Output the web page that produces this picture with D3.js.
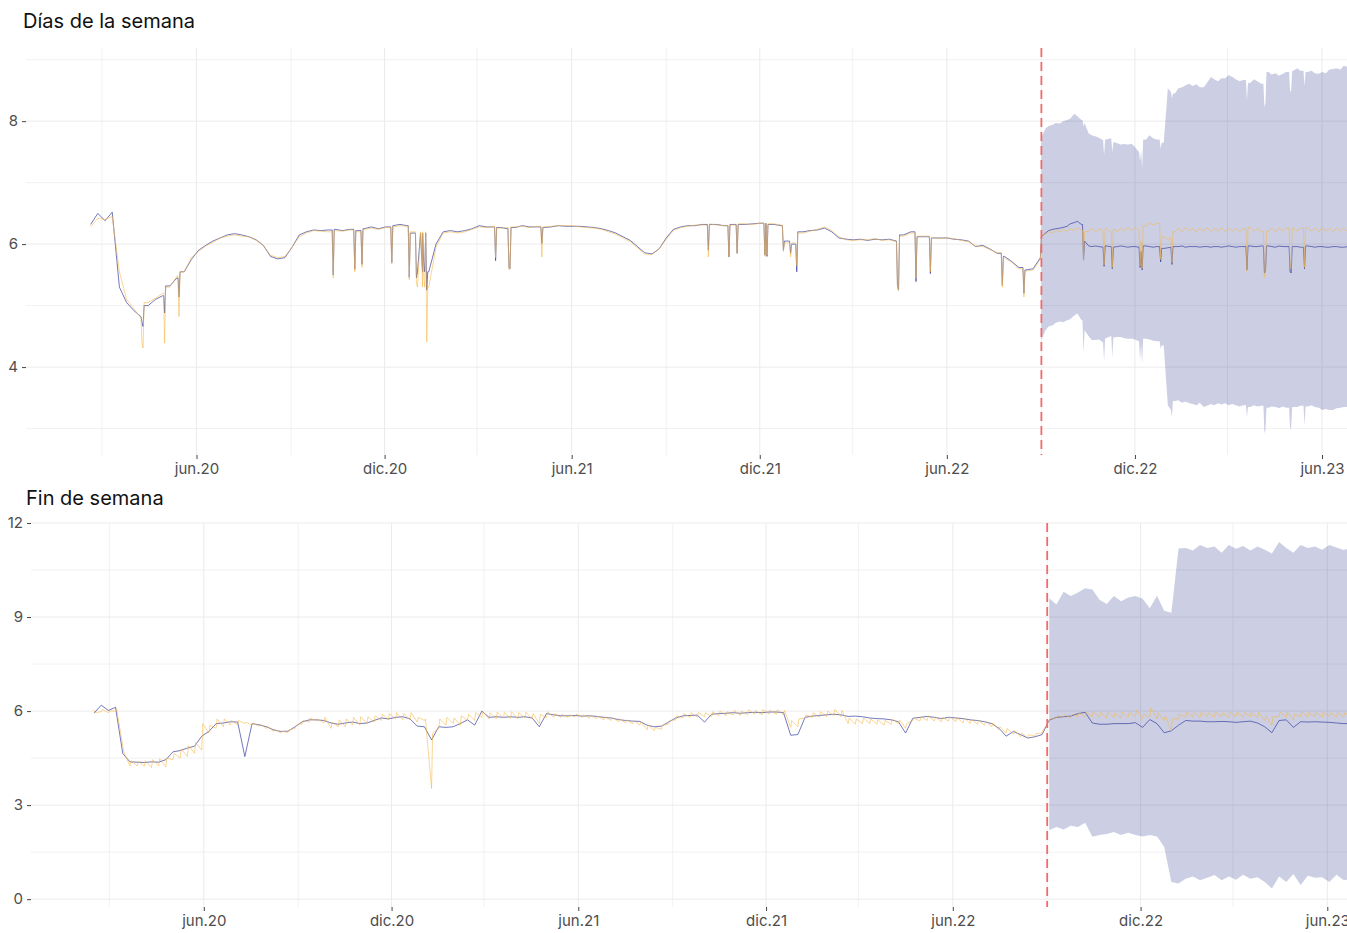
<!DOCTYPE html>
<html lang="es">
<head>
<meta charset="utf-8">
<script src="https://cdn.jsdelivr.net/npm/d3@7"></script>
<style>
  body { margin: 0; background: #ffffff; }
  svg  { display: block; font-family: Inter, "Liberation Sans", sans-serif; }
</style>
</head>
<body>
<svg id="grafico" width="1347" height="933"></svg>
<script>
// ---- datos: días de la semana (miércoles de cada semana) ----
let semanaInicio = "2020-02-19";
let semanaObs = [
  6.32,6.50,6.38,6.52,5.30,5.05,4.92,4.82,5.00,5.10,
  5.16,5.32,5.45,5.55,5.75,5.90,5.98,6.05,6.10,6.15,
  6.17,6.15,6.12,6.07,5.98,5.80,5.76,5.78,5.95,6.15,
  6.20,6.23,6.22,6.23,6.24,6.22,6.24,6.22,6.25,6.28,
  6.25,6.28,6.30,6.32,6.30,6.18,5.80,5.55,6.00,6.20,
  6.22,6.20,6.22,6.25,6.30,6.28,6.28,6.27,6.25,6.27,
  6.30,6.28,6.28,6.27,6.28,6.30,6.29,6.29,6.29,6.28,
  6.27,6.25,6.22,6.18,6.12,6.06,5.96,5.86,5.84,5.92,
  6.10,6.24,6.28,6.30,6.30,6.32,6.32,6.32,6.30,6.32,
  6.32,6.32,6.33,6.34,6.32,6.32,6.30,6.05,6.00,6.20,
  6.22,6.23,6.26,6.20,6.10,6.08,6.07,6.08,6.06,6.08,
  6.07,6.08,6.05,6.15,6.20,6.12,6.12,6.10,6.10,6.10,
  6.08,6.07,6.05,5.96,5.98,5.92,5.85,5.80,5.72,5.62,
  5.58,5.60,5.78
];
let semanaObsModelo = [
  6.28,6.42,6.40,6.45,5.55,5.10,4.95,4.80,5.05,5.12,
  5.20,5.30,5.48,5.55,5.78,5.88,5.97,6.03,6.10,6.13,
  6.15,6.13,6.12,6.06,5.98,5.82,5.78,5.80,5.95,6.12,
  6.18,6.22,6.21,6.20,6.22,6.21,6.23,6.20,6.24,6.26,
  6.24,6.27,6.28,6.30,6.29,6.20,5.85,5.30,5.95,6.18,
  6.20,6.18,6.20,6.24,6.28,6.27,6.29,6.26,6.27,6.28,
  6.29,6.27,6.29,6.28,6.29,6.30,6.30,6.30,6.28,6.27,
  6.26,6.24,6.20,6.16,6.10,6.04,5.94,5.84,5.83,5.92,
  6.08,6.22,6.27,6.29,6.31,6.31,6.33,6.31,6.30,6.31,
  6.33,6.33,6.32,6.34,6.33,6.33,6.31,6.02,6.02,6.18,
  6.21,6.24,6.28,6.22,6.12,6.07,6.06,6.07,6.07,6.09,
  6.06,6.07,6.04,6.13,6.18,6.13,6.13,6.11,6.09,6.10,
  6.09,6.06,6.04,5.97,5.96,5.91,5.86,5.78,5.70,5.60,
  5.56,5.58,5.75
];
// festivos: [fecha, observado, modelo]
let semanaFestivos = [
  ["2020-04-09",4.72,4.40],["2020-04-10",4.66,4.31],["2020-05-01",4.88,4.39],
  ["2020-05-15",5.14,4.82],["2020-10-12",5.50,5.45],["2020-11-02",5.59,5.55],
  ["2020-11-09",5.67,5.62],["2020-12-08",5.70,5.68],["2020-12-25",5.46,5.42],
  ["2021-01-01",5.45,5.36],["2021-01-06",5.79,5.85],["2021-01-08",5.70,5.50],
  ["2021-01-11",5.25,4.41],["2021-03-19",5.73,5.78],["2021-04-01",5.62,5.58],
  ["2021-04-02",5.60,5.60],["2021-05-03",6.01,5.79],["2021-10-12",5.90,5.79],
  ["2021-11-01",5.79,5.79],["2021-11-09",5.85,5.85],["2021-12-06",5.82,5.80],
  ["2021-12-08",5.80,5.82],["2021-12-24",5.90,5.88],["2021-12-31",5.85,5.79],
  ["2022-01-06",5.55,5.65],["2022-04-14",5.32,5.30],["2022-04-15",5.25,5.25],
  ["2022-05-02",5.39,5.45],["2022-05-16",5.52,5.55],["2022-07-25",5.33,5.30],
  ["2022-08-15",5.20,5.14]
];
// pronóstico: pares [jueves, lunes] desde el 1 de septiembre de 2022
let semanaPronInicio = "2022-09-01";
let semanaPron = [
  [6.12,6.18],[6.22,6.24],[6.25,6.26],[6.27,6.29],[6.33,6.35],
  [6.37,6.32],[6.05,5.97],[5.96,5.97],[5.96,5.95],[5.97,5.96],
  [5.95,5.96],[5.97,5.96],[5.95,5.96],[5.96,5.95],[5.96,5.97],
  [5.96,5.95],[5.96,5.95],[5.93,5.94],[5.95,5.96],[5.96,5.97],
  [5.95,5.96],[5.96,5.96],[5.95,5.96],[5.96,5.95],[5.96,5.96],
  [5.95,5.96],[5.97,5.96],[5.95,5.96],[5.96,5.95],[5.97,5.96],
  [5.96,5.97],[5.96,5.97],[5.96,5.95],[5.97,5.96],[5.96,5.95],
  [5.96,5.96],[5.95,5.96],[5.97,5.96],[5.95,5.96],[5.96,5.95],
  [5.95,5.96],[5.96,5.95],[5.95,5.96]
];
let semanaPronModelo = [
  [6.14,6.16],[6.20,6.18],[6.23,6.20],[6.24,6.21],[6.25,6.22],
  [6.26,6.23],[6.20,6.21],[6.26,6.20],[6.25,6.21],[6.26,6.20],
  [6.25,6.20],[6.26,6.21],[6.27,6.22],[6.28,6.22],[6.30,6.30],
  [6.34,6.31],[6.34,6.10],[6.12,6.08],[6.10,6.20],[6.26,6.20],
  [6.27,6.21],[6.26,6.20],[6.26,6.21],[6.27,6.20],[6.26,6.21],
  [6.27,6.20],[6.26,6.21],[6.26,6.20],[6.25,6.20],[6.27,6.21],
  [6.26,6.20],[6.27,6.21],[6.26,6.20],[6.27,6.21],[6.26,6.20],
  [6.26,6.21],[6.26,6.20],[6.27,6.21],[6.26,6.20],[6.27,6.21],
  [6.26,6.20],[6.27,6.21],[6.26,6.20]
];
let semanaAlta = [
  [7.74,7.88],[7.92,7.94],[7.97,7.96],[8.00,8.02],[8.04,8.12],
  [8.08,8.02],[7.97,7.80],[7.77,7.75],[7.73,7.69],[7.70,7.72],
  [7.66,7.64],[7.62,7.63],[7.62,7.63],[7.58,7.50],[7.56,7.70],
  [7.77,7.72],[7.70,7.60],[7.65,8.53],[8.48,8.45],[8.53,8.55],
  [8.58,8.61],[8.57,8.60],[8.55,8.55],[8.62,8.72],[8.68,8.65],
  [8.70,8.70],[8.75,8.72],[8.68,8.65],[8.67,8.34],[8.62,8.68],
  [8.65,8.61],[8.30,8.80],[8.76,8.78],[8.74,8.77],[8.80,8.50],
  [8.82,8.86],[8.82,8.60],[8.80,8.82],[8.78,8.77],[8.80,8.78],
  [8.84,8.85],[8.86,8.84],[8.90,8.88]
];
let semanaBaja = [
  [4.44,4.60],[4.66,4.68],[4.72,4.74],[4.73,4.76],[4.78,4.84],
  [4.87,4.76],[4.60,4.50],[4.44,4.44],[4.45,4.40],[4.47,4.50],
  [4.48,4.49],[4.49,4.47],[4.46,4.46],[4.45,4.42],[4.45,4.46],
  [4.45,4.43],[4.42,4.38],[4.35,3.38],[3.30,3.45],[3.46,3.42],
  [3.44,3.41],[3.40,3.38],[3.42,3.35],[3.37,3.40],[3.38,3.41],
  [3.39,3.41],[3.38,3.40],[3.38,3.36],[3.38,3.20],[3.35,3.38],
  [3.36,3.37],[3.00,3.34],[3.36,3.35],[3.33,3.36],[3.34,3.00],
  [3.35,3.35],[3.37,3.10],[3.36,3.38],[3.35,3.34],[3.30,3.32],
  [3.30,3.30],[3.33,3.34],[3.35,3.35]
];
// festivos del pronóstico: [fecha, pronóstico, modelo, alta, baja]
let semanaFestivosPron = [
  ["2022-10-12",5.74,5.74,7.91,4.22],["2022-11-01",5.64,5.66,7.45,4.09],
  ["2022-11-09",5.60,5.62,7.50,4.15],["2022-12-06",5.62,5.64,7.35,4.12],
  ["2022-12-07",5.88,6.05,7.52,4.38],["2022-12-08",5.58,5.60,7.23,4.06],
  ["2022-12-26",5.71,5.75,7.55,4.30],["2023-01-06",5.67,5.70,8.37,3.19],
  ["2023-03-20",5.58,5.56,8.34,3.19],["2023-04-06",5.53,5.46,8.23,2.92],
  ["2023-04-07",5.56,5.50,8.30,2.98],["2023-05-01",5.55,5.62,8.48,2.98],
  ["2023-05-02",5.53,5.60,8.50,3.02],["2023-05-15",5.60,5.62,8.57,3.05]
];

// ---- datos: fin de semana (sábado de cada semana) ----
let findeInicio = "2020-02-15";
let findeObs = [
  5.93,6.19,6.02,6.12,4.65,4.38,4.37,4.36,4.38,4.37,
  4.45,4.70,4.74,4.82,4.88,5.20,5.35,5.60,5.62,5.66,
  5.65,4.55,5.60,5.56,5.50,5.40,5.35,5.36,5.50,5.66,
  5.72,5.72,5.70,5.62,5.58,5.62,5.65,5.60,5.62,5.70,
  5.78,5.75,5.80,5.82,5.75,5.52,5.50,5.08,5.50,5.48,
  5.50,5.60,5.72,5.55,6.00,5.80,5.82,5.80,5.82,5.80,
  5.82,5.78,5.50,5.92,5.88,5.85,5.85,5.86,5.84,5.85,
  5.83,5.80,5.78,5.73,5.70,5.68,5.67,5.55,5.50,5.52,
  5.65,5.78,5.85,5.86,5.87,5.65,5.90,5.92,5.93,5.95,
  5.93,5.95,5.96,5.95,5.97,5.97,5.95,5.23,5.25,5.80,
  5.84,5.86,5.88,5.90,5.88,5.83,5.84,5.82,5.78,5.76,
  5.75,5.72,5.66,5.30,5.77,5.80,5.83,5.80,5.76,5.80,
  5.78,5.76,5.72,5.70,5.66,5.60,5.45,5.20,5.35,5.25,
  5.14,5.18,5.25
];
// modelo: pares [sábado, domingo]
let findeObsModelo = [
  [6.03,5.95],[5.98,6.05],[5.95,6.00],[6.00,6.08],[4.90,4.70],
  [4.25,4.42],[4.25,4.40],[4.24,4.42],[4.20,4.45],[4.25,4.48],
  [4.22,4.50],[4.45,4.65],[4.50,4.80],[4.55,4.90],[4.65,5.00],
  [4.75,5.60],[5.30,5.55],[5.45,5.75],[5.50,5.75],[5.55,5.70],
  [5.55,5.70],[5.60,5.65],[5.55,5.62],[5.52,5.58],[5.45,5.52],
  [5.35,5.42],[5.30,5.36],[5.32,5.40],[5.45,5.55],[5.60,5.70],
  [5.65,5.78],[5.68,5.75],[5.62,5.80],[5.45,5.65],[5.50,5.72],
  [5.50,5.75],[5.55,5.80],[5.55,5.82],[5.60,5.82],[5.65,5.85],
  [5.70,5.90],[5.72,5.92],[5.75,5.95],[5.72,5.92],[5.72,5.95],
  [5.65,5.80],[5.70,5.75],[3.53,5.30],[5.45,5.75],[5.55,5.80],
  [5.60,5.78],[5.55,5.85],[5.70,5.90],[5.70,5.95],[5.80,5.98],
  [5.75,5.95],[5.75,5.97],[5.78,5.95],[5.76,5.98],[5.75,5.95],
  [5.78,5.96],[5.75,5.92],[5.60,5.90],[5.78,5.98],[5.80,5.92],
  [5.80,5.90],[5.80,5.88],[5.82,5.90],[5.80,5.88],[5.78,5.86],
  [5.76,5.84],[5.72,5.82],[5.70,5.80],[5.66,5.76],[5.62,5.72],
  [5.60,5.70],[5.55,5.66],[5.40,5.55],[5.38,5.48],[5.42,5.55],
  [5.58,5.70],[5.72,5.85],[5.78,5.92],[5.80,5.95],[5.80,5.96],
  [5.82,5.95],[5.82,5.98],[5.85,6.00],[5.85,5.98],[5.88,6.02],
  [5.86,6.00],[5.88,6.04],[5.90,6.02],[5.88,6.05],[5.90,6.03],
  [5.90,6.05],[5.88,6.02],[5.48,5.70],[5.50,5.75],[5.78,5.88],
  [5.80,5.95],[5.80,5.98],[5.82,6.00],[5.85,6.05],[5.82,6.02],
  [5.60,5.78],[5.58,5.75],[5.60,5.78],[5.60,5.75],[5.58,5.72],
  [5.55,5.70],[5.58,5.75],[5.60,5.72],[5.45,5.60],[5.70,5.78],
  [5.68,5.82],[5.70,5.85],[5.68,5.82],[5.66,5.80],[5.68,5.82],
  [5.66,5.80],[5.62,5.78],[5.60,5.74],[5.58,5.70],[5.55,5.68],
  [5.50,5.62],[5.40,5.50],[5.30,5.45],[5.25,5.38],[5.18,5.30],
  [5.15,5.25],[5.20,5.28],[5.30,5.40]
];
let findePronInicio = "2022-09-03";
let findePron = [
  5.71,5.80,5.82,5.84,5.92,5.96,5.62,5.58,5.58,5.60,
  5.60,5.60,5.63,5.48,5.73,5.60,5.31,5.37,5.55,5.70,
  5.68,5.68,5.66,5.66,5.67,5.66,5.64,5.66,5.68,5.62,
  5.50,5.31,5.70,5.72,5.48,5.66,5.65,5.66,5.65,5.64,
  5.62,5.60,5.60
];
let findePronModelo = [
  [5.68,5.75],[5.78,5.85],[5.80,5.88],[5.78,5.90],[5.82,5.95],
  [5.80,5.96],[5.82,5.98],[5.80,5.95],[5.78,5.96],[5.80,5.95],
  [5.78,5.97],[5.80,5.96],[5.82,6.04],[5.75,5.90],[5.82,6.10],
  [5.75,5.95],[5.70,5.85],[5.37,5.75],[5.75,5.90],[5.80,5.96],
  [5.82,5.95],[5.80,5.96],[5.82,5.95],[5.80,5.97],[5.82,5.95],
  [5.80,5.96],[5.82,5.97],[5.80,5.95],[5.82,5.96],[5.78,5.95],
  [5.70,5.85],[5.55,5.82],[5.82,5.97],[5.80,5.96],[5.72,5.90],
  [5.82,5.97],[5.80,5.95],[5.82,5.96],[5.80,5.97],[5.82,5.95],
  [5.80,5.96],[5.82,5.95],[5.80,5.96]
];
let findeAlta = [
  9.60,9.40,9.81,9.67,9.78,9.92,9.88,9.55,9.42,9.67,
  9.50,9.62,9.67,9.58,9.28,9.68,9.20,9.14,11.19,11.20,
  11.12,11.30,11.20,11.25,11.05,11.30,11.18,11.27,11.12,11.25,
  11.15,11.03,11.39,11.20,11.05,11.30,11.20,11.25,11.15,11.30,
  11.22,11.14,11.20
];
let findeBaja = [
  2.20,2.30,2.22,2.34,2.30,2.44,1.99,2.05,2.08,2.14,
  2.05,2.12,2.05,2.00,2.05,2.00,1.67,0.55,0.50,0.65,
  0.72,0.60,0.68,0.77,0.60,0.72,0.62,0.78,0.65,0.70,
  0.55,0.34,0.72,0.55,0.80,0.45,0.75,0.68,0.70,0.55,
  0.78,0.60,0.65
];

// ---- ejes ----
let fechaCorte   = "2022-09-01";
let ticksFechas  = ["2020-06-01","2020-12-01","2021-06-01","2021-12-01","2022-06-01","2022-12-01","2023-06-01"];
let ticksEtiq    = ["jun.20","dic.20","jun.21","dic.21","jun.22","dic.22","jun.23"];
let menoresFechas = ["2020-03-01","2020-09-01","2021-03-01","2021-09-01","2022-03-01","2022-09-01","2023-03-01","2023-09-01"];
let semanaTicksY  = [4, 6, 8];
let semanaMenoresY = [3, 5, 7, 9];
let findeTicksY   = [0, 3, 6, 9, 12];
let findeMenoresY = [1.5, 4.5, 7.5, 10.5];

let ancho = 1347;
let parse = d3.utcParse("%Y-%m-%d");
let svg   = d3.select("#grafico");

function puntosRegulares(inicio, valores, desfases){
    let t0 = parse(inicio);
    let pts = [];
    valores.forEach((v, i) => {
        let vs = Array.isArray(v) ? v : [v];
        vs.forEach((val, k) => pts.push({ t: d3.utcDay.offset(t0, 7 * i + desfases[k]), v: val }));
    });
    return pts;
}

// inserta los festivos: el día anterior y posterior repiten el valor del vecino más cercano
function armarSerie(regulares, festivos){
    let dias = new Set(festivos.map(f => +f.t));
    let pts  = regulares.filter(p => !dias.has(+p.t));
    let fechasReg = new Set(pts.map(p => +p.t));
    let extra = [];
    festivos.forEach(f => {
        [-1, 1].forEach(s => {
            let t = d3.utcDay.offset(f.t, s);
            if (dias.has(+t) || fechasReg.has(+t)) return;
            let lado = s < 0 ? pts.filter(p => p.t < f.t) : pts.filter(p => p.t > f.t);
            if (!lado.length) return;
            let vecino = s < 0 ? lado[lado.length - 1] : lado[0];
            extra.push({ t: t, v: vecino.v });
        });
    });
    return pts.concat(festivos, extra).sort((a, b) => a.t - b.t);
}

function festivosCol(lista, col){
    return lista.map(f => ({ t: parse(f[0]), v: f[col] }));
}

// ---- series del panel superior ----
let semAzul = armarSerie(
    puntosRegulares(semanaInicio, semanaObs, [0]).concat(puntosRegulares(semanaPronInicio, semanaPron, [0, 4])),
    festivosCol(semanaFestivos, 1).concat(festivosCol(semanaFestivosPron, 1))
);
let semNaranja = armarSerie(
    puntosRegulares(semanaInicio, semanaObsModelo, [0]).concat(puntosRegulares(semanaPronInicio, semanaPronModelo, [0, 4])),
    festivosCol(semanaFestivos, 2).concat(festivosCol(semanaFestivosPron, 2))
);
let semAlta = armarSerie(puntosRegulares(semanaPronInicio, semanaAlta, [0, 4]), festivosCol(semanaFestivosPron, 3));
let semBaja = armarSerie(puntosRegulares(semanaPronInicio, semanaBaja, [0, 4]), festivosCol(semanaFestivosPron, 4));
let semBanda = semAlta.map((p, i) => ({ t: p.t, hi: p.v, lo: semBaja[i].v }));

// ---- series del panel inferior ----
let finAzul = puntosRegulares(findeInicio, findeObs, [0]).concat(puntosRegulares(findePronInicio, findePron, [0]));
let finNaranja = puntosRegulares(findeInicio, findeObsModelo, [0, 1]).concat(puntosRegulares(findePronInicio, findePronModelo, [0, 1]));
let finBanda = findeAlta.map((hi, i) => ({ t: d3.utcDay.offset(parse(findePronInicio), 7 * i), hi: hi, lo: findeBaja[i] }));

function dibujarPanel(p){
    let g = svg.append("g");
    let clipId = "clip" + p.id;

    svg.append("clipPath").attr("id", clipId)
        .append("rect")
            .attr("x", p.izq).attr("y", p.arriba)
            .attr("width", ancho - p.izq).attr("height", p.abajo - p.arriba);

    g.append("text")
        .attr("x", p.tituloX).attr("y", p.tituloY)
        .attr("font-size", 20).attr("fill", "#111")
        .text(p.titulo);

    // rejilla
    g.selectAll(".hMenor").data(p.menoresY).join("line")
        .attr("x1", p.izq).attr("x2", ancho)
        .attr("y1", d => p.y(d)).attr("y2", d => p.y(d))
        .attr("stroke", "#ededed").attr("stroke-width", 0.8);
    g.selectAll(".hMayor").data(p.ticksY).join("line")
        .attr("x1", p.izq).attr("x2", ancho)
        .attr("y1", d => p.y(d)).attr("y2", d => p.y(d))
        .attr("stroke", "#ebebeb").attr("stroke-width", 1);
    g.selectAll(".vMenor").data(menoresFechas.map(parse)).join("line")
        .attr("x1", d => p.x(d)).attr("x2", d => p.x(d))
        .attr("y1", p.arriba).attr("y2", p.abajo)
        .attr("stroke", "#ededed").attr("stroke-width", 0.8);
    g.selectAll(".vMayor").data(ticksFechas.map(parse)).join("line")
        .attr("x1", d => p.x(d)).attr("x2", d => p.x(d))
        .attr("y1", p.arriba).attr("y2", p.abajo)
        .attr("stroke", "#ebebeb").attr("stroke-width", 1);

    let datos = g.append("g").attr("clip-path", "url(#" + clipId + ")");

    let area = d3.area()
        .x(d => p.x(d.t))
        .y0(d => p.y(d.lo))
        .y1(d => p.y(d.hi));
    datos.append("path")
        .datum(p.banda)
        .attr("d", area)
        .attr("fill", "#28358f")
        .attr("fill-opacity", 0.24);

    let linea = d3.line().x(d => p.x(d.t)).y(d => p.y(d.v));
    datos.append("path")
        .datum(p.azul)
        .attr("d", linea)
        .attr("fill", "none")
        .attr("stroke", "#2f3a9c")
        .attr("stroke-opacity", 0.85)
        .attr("stroke-width", 0.8);
    datos.append("path")
        .datum(p.naranja)
        .attr("d", linea)
        .attr("fill", "none")
        .attr("stroke", "#f7b845")
        .attr("stroke-opacity", 0.72)
        .attr("stroke-width", 0.8);

    let xc = p.x(parse(fechaCorte));
    g.append("line")
        .attr("x1", xc).attr("x2", xc)
        .attr("y1", p.arriba).attr("y2", p.abajo)
        .attr("stroke", "#f26b6b")
        .attr("stroke-width", 1.8)
        .attr("stroke-dasharray", "9,5");

    // ejes
    let ejeY = g.append("g")
        .attr("transform", "translate(" + p.izq + ",0)")
        .call(d3.axisLeft(p.y).tickValues(p.ticksY).tickFormat(d3.format("d"))
              .tickSize(4).tickPadding(4));
    let ejeX = g.append("g")
        .attr("transform", "translate(0," + p.abajo + ")")
        .call(d3.axisBottom(p.x).tickValues(ticksFechas.map(parse))
              .tickFormat((d, i) => ticksEtiq[i]).tickSize(4).tickPadding(4));
    [ejeY, ejeX].forEach(e => {
        e.select(".domain").remove();
        e.attr("font-family", null).attr("font-size", 15);
        e.selectAll(".tick line").attr("stroke", "#444");
        e.selectAll(".tick text").attr("fill", "#4d4d4d");
    });
}

dibujarPanel({
    id: "semana",
    titulo: "Días de la semana", tituloX: 23, tituloY: 28,
    izq: 26, arriba: 48, abajo: 455,
    x: d3.scaleUtc().domain([parse("2020-06-01"), parse("2023-06-01")]).range([196.5, 1322]),
    y: d3.scaleLinear().domain([2.57, 9.19]).range([455, 48]),
    ticksY: semanaTicksY, menoresY: semanaMenoresY,
    azul: semAzul, naranja: semNaranja, banda: semBanda
});

dibujarPanel({
    id: "finde",
    titulo: "Fin de semana", tituloX: 26, tituloY: 505,
    izq: 31, arriba: 523, abajo: 907,
    x: d3.scaleUtc().domain([parse("2020-06-01"), parse("2023-06-01")]).range([203.8, 1327.3]),
    y: d3.scaleLinear().domain([-0.25, 12]).range([907, 523]),
    ticksY: findeTicksY, menoresY: findeMenoresY,
    azul: finAzul, naranja: finNaranja, banda: finBanda
});
</script>
</body>
</html>
